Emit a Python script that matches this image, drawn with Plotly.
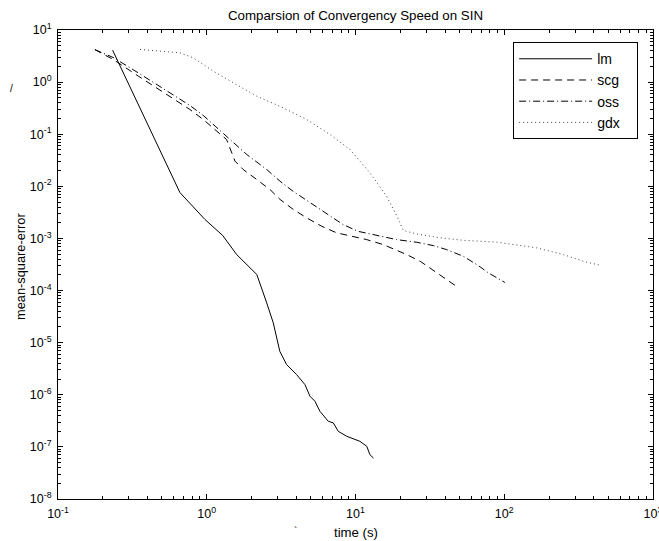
import plotly.graph_objects as go

# ---- data (time in s, mean-square-error) ----
lm_t = [0.233, 0.66, 0.973, 1.28, 1.59, 2.17, 2.53, 2.80, 3.10, 3.44, 4.02, 4.57,
        4.94, 5.34, 5.77, 6.56, 7.09, 7.66, 8.73, 10.7, 11.9, 12.5, 13.2]
lm_mse = [4.09, 0.0076, 0.00231, 0.00114, 4.9e-4, 2.03e-4, 5.8e-5, 2.4e-5, 6.8e-6,
          3.8e-6, 2.44e-6, 1.57e-6, 9.4e-7, 7.5e-7, 4.8e-7, 3.1e-7, 2.89e-7, 1.99e-7,
          1.6e-7, 1.28e-7, 1.03e-7, 7.1e-8, 6.1e-8]

scg_t = [0.177, 0.235, 0.347, 0.538, 0.771, 0.948, 1.17, 1.36, 1.55, 1.76, 2.17, 2.66,
         3.11, 3.82, 4.70, 5.93, 7.47, 9.66, 11.9, 15.4, 22.1, 27.2, 33.4, 41.0, 48.0]
scg_mse = [4.2, 2.72, 1.30, 0.578, 0.298, 0.191, 0.114, 0.079, 0.0303, 0.0210, 0.0135,
           0.0087, 0.0056, 0.0036, 0.00248, 0.00171, 0.00128, 0.00110, 9.5e-4, 7.6e-4,
           4.9e-4, 3.65e-4, 2.45e-4, 1.63e-4, 1.19e-4]

oss_t = [0.177, 0.235, 0.347, 0.538, 0.771, 0.948, 1.17, 1.50, 1.86, 2.53, 3.11, 3.80,
         4.94, 6.40, 8.24, 10.4, 13.9, 18.9, 25.8, 33.3, 41.0, 53.1, 66.9, 78.1, 101.0]
oss_mse = [4.2, 2.97, 1.50, 0.69, 0.356, 0.229, 0.133, 0.069, 0.0407, 0.0210, 0.01253,
           0.00805, 0.00489, 0.00288, 0.00185, 0.00137, 0.00114, 9.5e-4, 8.45e-4,
           7.3e-4, 6.1e-4, 4.55e-4, 3.02e-4, 2.19e-4, 1.43e-4]

gdx_t = [0.356, 0.66, 0.812, 1.107, 1.51, 2.17, 3.27, 4.70, 6.74, 9.19, 12.5, 16.2,
         18.9, 21.0, 25.8, 37.0, 53.1, 89.0, 165.0, 250.0, 340.0, 452.0]
gdx_mse = [4.23, 3.65, 2.92, 1.62, 0.97, 0.536, 0.321, 0.191, 0.0987, 0.0508, 0.0182,
           0.0064, 0.00275, 0.00142, 0.00122, 0.00103, 9.2e-4, 8.5e-4, 6.6e-4, 4.9e-4,
           3.65e-4, 3.0e-4]

series_names = ["lm", "scg", "oss", "gdx"]

x_tick_exps = [-1, 0, 1, 2, 3]
y_tick_exps = [-8, -7, -6, -5, -4, -3, -2, -1, 0, 1]


def pow_label(e):
    return "10<sup>" + ("-" if e < 0 else "") + str(abs(e)) + "</sup>"


def legend_name(n):
    # trailing non-breaking spaces widen the legend box on the right
    return n + "\u00a0\u00a0\u00a0"


FONT = "Liberation Sans, Arial, Helvetica, sans-serif"

fig = go.Figure()
fig.add_trace(go.Scatter(x=lm_t, y=lm_mse, mode="lines", name=legend_name(series_names[0]),
                         line=dict(color="black", width=1)))
fig.add_trace(go.Scatter(x=scg_t, y=scg_mse, mode="lines", name=legend_name(series_names[1]),
                         line=dict(color="black", width=1, dash="7px,5px")))
fig.add_trace(go.Scatter(x=oss_t, y=oss_mse, mode="lines", name=legend_name(series_names[2]),
                         line=dict(color="black", width=1, dash="7px,3px,1px,3px")))
fig.add_trace(go.Scatter(x=gdx_t, y=gdx_mse, mode="lines", name=legend_name(series_names[3]),
                         line=dict(color="#444444", width=1, dash="1px,3px")))

axis_common = dict(
    type="log", showgrid=False, zeroline=False, showline=True, linecolor="black",
    linewidth=1, mirror="ticks", ticks="inside", ticklen=5, tickcolor="black",
    automargin=False, ticklabeloverflow="allow", ticklabelstandoff=3,
    tickfont=dict(family=FONT, size=12.5, color="black"),
    minor=dict(ticks="inside", ticklen=3, tickcolor="black", dtick="D1", showgrid=False),
)

fig.update_xaxes(range=[-1, 3], tickmode="array",
                 tickvals=[10.0 ** e for e in x_tick_exps],
                 ticktext=[pow_label(e) for e in x_tick_exps], **axis_common)
fig.update_yaxes(range=[-8, 1], tickmode="array",
                 tickvals=[10.0 ** e for e in y_tick_exps],
                 ticktext=[pow_label(e) for e in y_tick_exps], **axis_common)

fig.update_layout(
    width=659, height=541,
    margin=dict(l=58, r=6, t=30, b=42, autoexpand=False),
    paper_bgcolor="white", plot_bgcolor="white",
    font=dict(family=FONT, size=13, color="black"),
    title=dict(text="Comparsion of Convergency Speed on SIN", x=0.5, xref="paper",
               y=1 - 15 / 541, yref="container", yanchor="middle",
               font=dict(family=FONT, size=13.3, color="black")),
    showlegend=True,
    legend=dict(x=0.975, y=0.974, xanchor="right", yanchor="top",
                bordercolor="black", borderwidth=1, bgcolor="white",
                itemwidth=73,
                font=dict(family=FONT, size=14, color="black"),
                tracegroupgap=0),
    annotations=[
        dict(text="time (s)", x=0.5, y=-33 / 469, xref="paper", yref="paper",
             xanchor="center", yanchor="middle", showarrow=False,
             font=dict(family=FONT, size=13.2, color="black")),
        dict(text="mean-square-error", x=(20 - 58) / 595, y=(499 - 267) / 469,
             xref="paper", yref="paper", xanchor="center", yanchor="middle",
             textangle=-90, showarrow=False,
             font=dict(family=FONT, size=12.8, color="black")),
        dict(text="/", x=(11 - 58) / 595, y=(499 - 88) / 469, xref="paper", yref="paper",
             xanchor="center", yanchor="middle", showarrow=False,
             font=dict(family=FONT, size=10, color="black")),
        dict(text="`", x=(295 - 58) / 595, y=(499 - 531) / 469, xref="paper", yref="paper",
             xanchor="center", yanchor="middle", showarrow=False,
             font=dict(family=FONT, size=10, color="black")),
    ],
)

fig.write_html("out.html", config={"displayModeBar": False},
               post_script="document.body.style.margin='0px';")
